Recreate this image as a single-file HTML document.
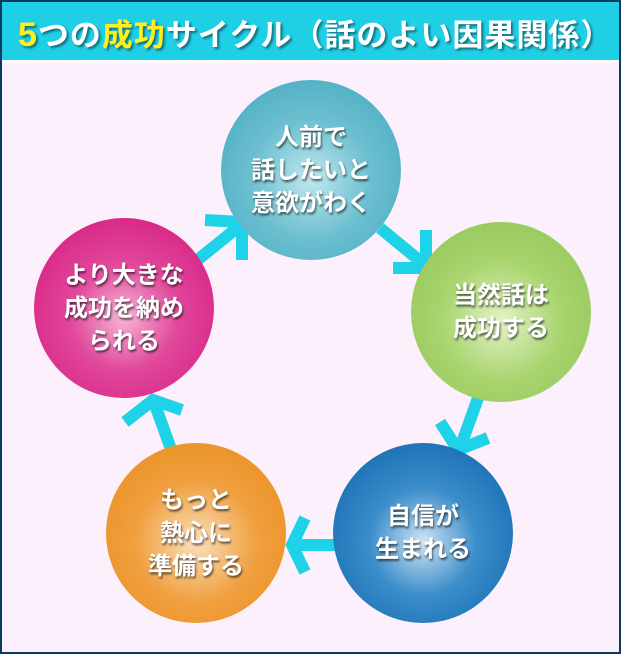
<!DOCTYPE html>
<html><head><meta charset="utf-8"><style>
body{margin:0;width:621px;height:654px;overflow:hidden;font-family:"Liberation Sans","Noto Sans CJK JP",sans-serif}
.wrap{position:absolute;left:0;top:0;width:617px;height:650px;border:2px solid #0b3a5e;background:#fcf0fc}
.hd{position:absolute;left:0;top:0;width:617px;height:58px;background:#1ecfe6;border-bottom:2px solid #fff}
.ttl{position:absolute;left:16px;top:8px;font-size:31px;font-weight:bold;color:#fff;letter-spacing:1px;text-shadow:2px 2px 2px rgba(0,0,0,.45);white-space:nowrap}
.y{color:#ffef1e}
.c{position:absolute;width:180px;height:180px;border-radius:50%;display:flex;align-items:center;justify-content:center;text-align:center;color:#fff;font-size:24px;font-weight:bold;line-height:33px;text-shadow:1px 2px 2px rgba(0,0,0,.6)}
</style></head><body>
<div class="wrap">
<div class="hd"><div class="ttl"><span class="y" style="font-size:34px">5</span>つの<span class="y">成功</span>サイクル（話のよい因果関係）</div></div>
</div>
<svg style="position:absolute;left:0;top:0" width="621" height="654">
<g stroke="#1ed2e8" stroke-width="12" fill="none" stroke-linecap="butt">
<line x1="195" y1="262" x2="242" y2="224"/><polyline points="205,220 242,222 242,260"/>
<line x1="380" y1="228" x2="425" y2="265"/><polyline points="393,268 426,268 426,230"/>
<line x1="478" y1="398" x2="460" y2="448"/><polyline points="440,422 458,450 488,438"/>
<line x1="336" y1="545" x2="292" y2="545"/><polyline points="305,518 292,545 305,572"/>
<line x1="172" y1="452" x2="154" y2="402"/><polyline points="125,422 153,400 182,410"/>
</g></svg>
<div class="c" style="left:221px;top:80px;background:radial-gradient(circle at 50% 55%,#bfe8ef 0,#6cbfd0 45%,#3fa6bd 100%)">人前で<br>話したいと<br>意欲がわく</div>
<div class="c" style="left:411px;top:222px;background:radial-gradient(circle at 50% 55%,#e2f3c8 0,#a9d46e 45%,#8cc356 100%)">当然話は<br>成功する</div>
<div class="c" style="left:333px;top:443px;background:radial-gradient(circle at 50% 55%,#cfe4f4 0,#3b8dca 40%,#0961a8 100%)">自信が<br>生まれる</div>
<div class="c" style="left:106px;top:443px;background:radial-gradient(circle at 50% 55%,#fae0bd 0,#f0a040 45%,#e88a16 100%)">もっと<br>熱心に<br>準備する</div>
<div class="c" style="left:34px;top:218px;background:radial-gradient(circle at 50% 55%,#f7b5d6 0,#e0489b 40%,#d4127a 100%)">より大きな<br>成功を納め<br>られる</div>
</body></html>
